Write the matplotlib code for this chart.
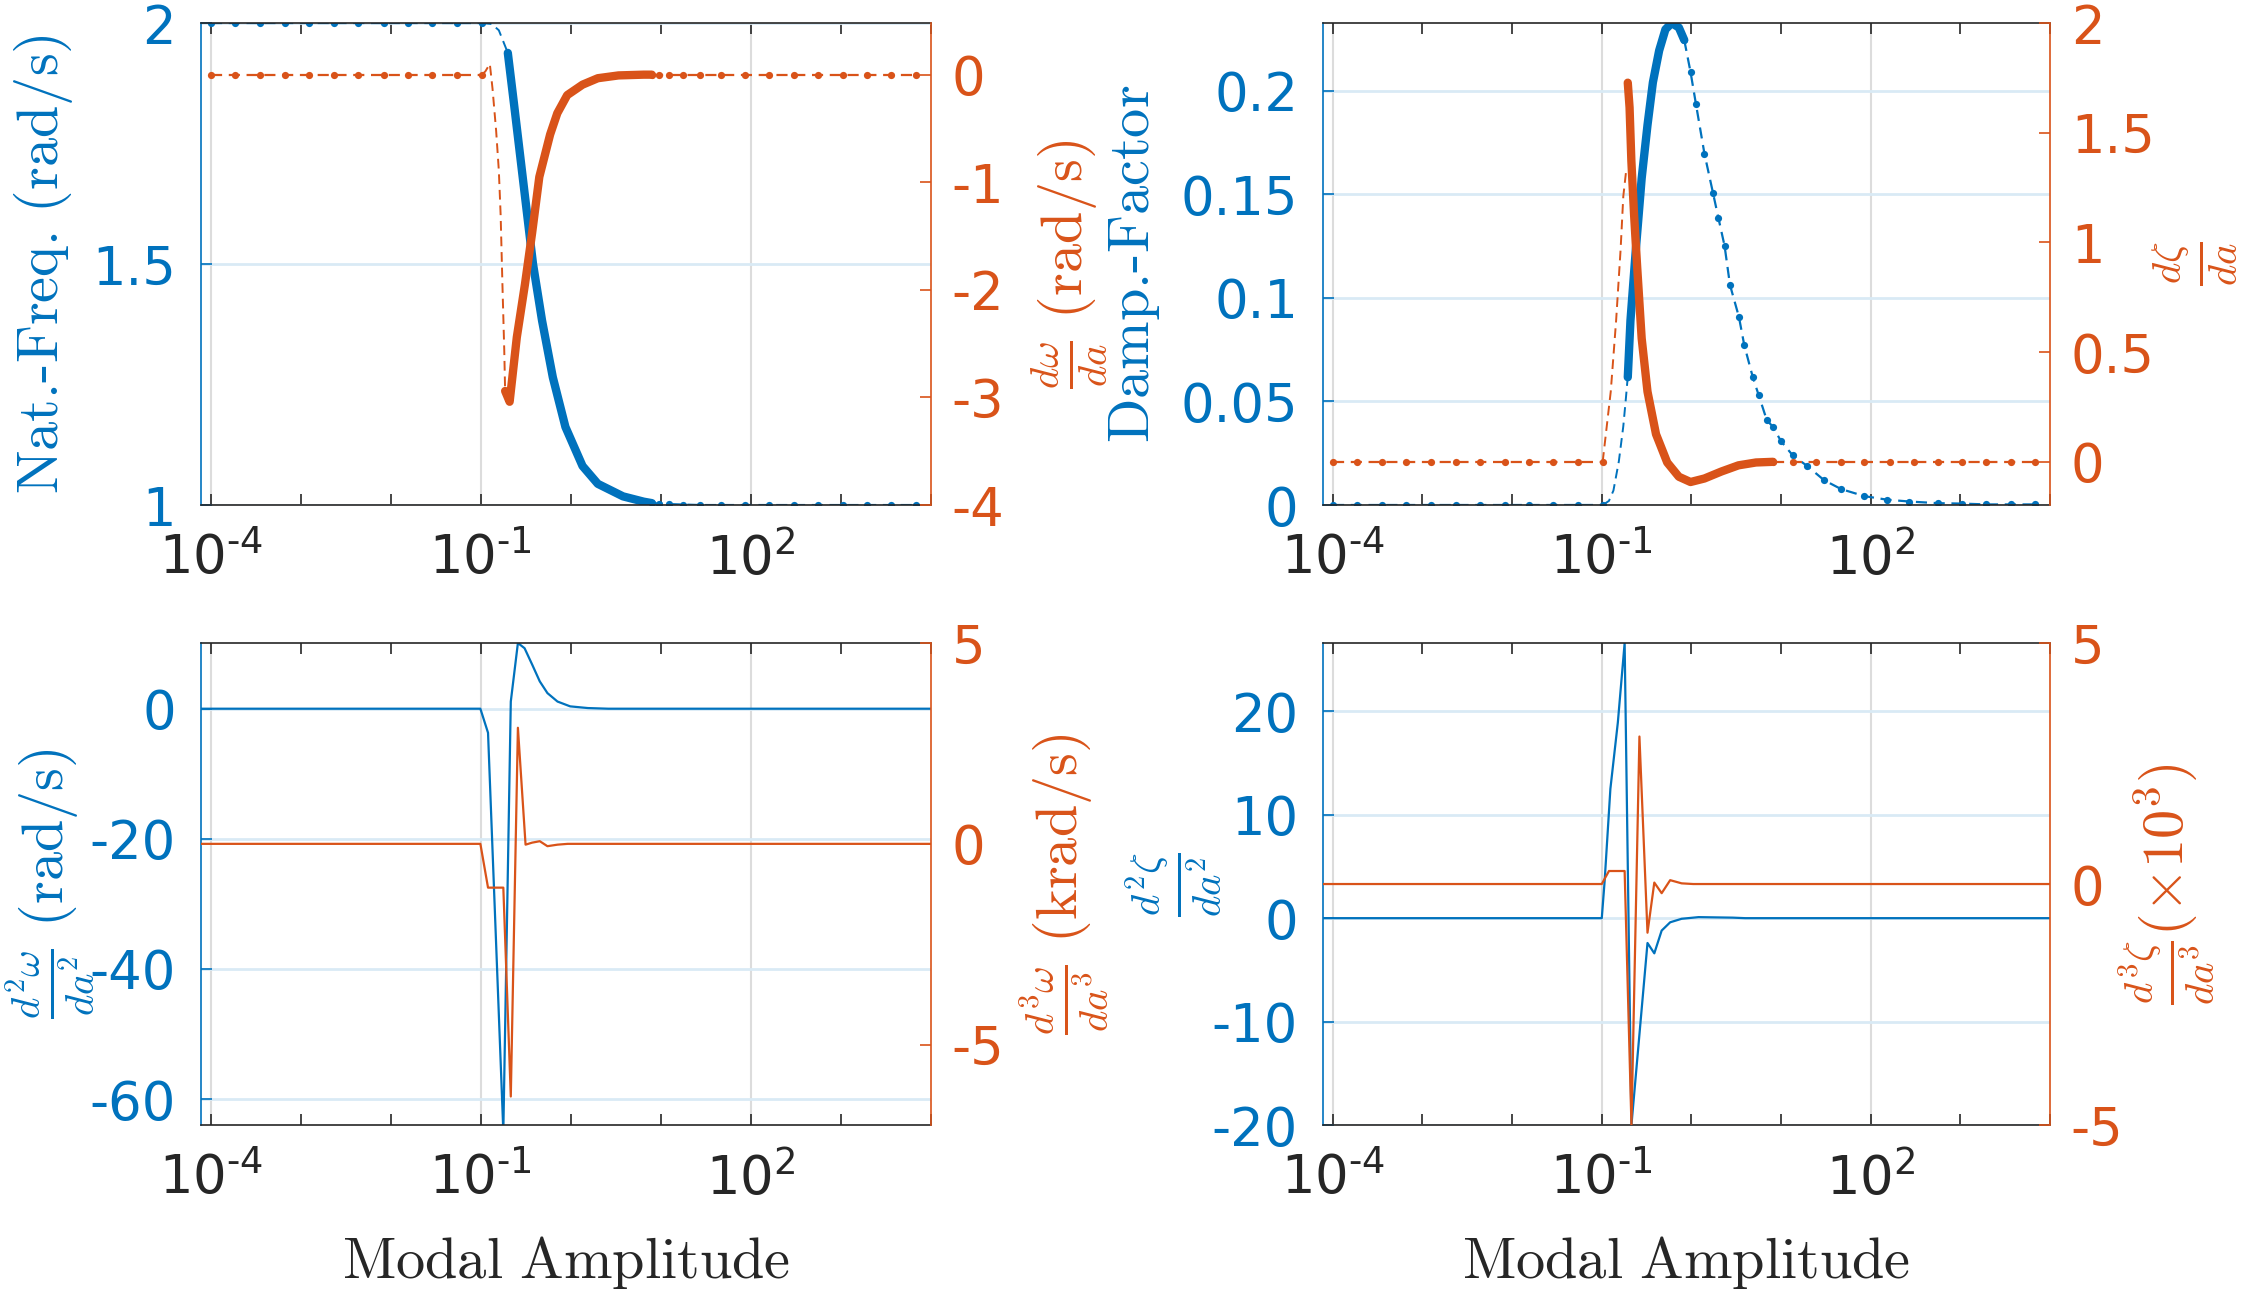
import numpy as np
import matplotlib.pyplot as plt
from matplotlib.ticker import FixedLocator, FixedFormatter, LogLocator, NullFormatter, FuncFormatter

plt.rcParams['mathtext.fontset'] = 'cm'
plt.rcParams['axes.unicode_minus'] = False

AZUL = '#0072BD'
NARANJA = '#D95319'
GRIS = '#262626'

# amplitudes (log10) de los puntos espaciados en la zona plana
loga_bajo = [-4.00, -3.73, -3.45, -3.18, -2.91, -2.63, -2.36, -2.08, -1.81, -1.54, -1.26, -0.99]
ceros_bajo = [0.0, 0.0, 0.0, 0.0, 0.0, 0.0, 0.0, 0.0, 0.0, 0.0, 0.0, 0.0]

# --- arriba izquierda: frecuencia natural (izq) y dw/da (der)
w_bajo = [2.0, 2.0, 2.0, 2.0, 2.0, 2.0, 2.0, 2.0, 2.0, 2.0, 2.0, 2.0]
w_puente_loga = [-0.99, -0.88, -0.80, -0.70]
w_puente = [2.000, 1.998, 1.985, 1.938]
w_denso_loga = [-0.70, -0.63, -0.56, -0.49, -0.42, -0.32, -0.20, -0.06, 0.13, 0.30, 0.58, 0.81, 0.90]
w_denso = [1.938, 1.830, 1.720, 1.610, 1.500, 1.383, 1.265, 1.162, 1.081, 1.044, 1.018, 1.007, 1.004]
w_alto_loga = [0.90, 0.98, 1.09, 1.25, 1.44, 1.67, 1.93, 2.20, 2.48, 2.75, 3.02, 3.29, 3.56, 3.83]
w_alto = [1.004, 1.003, 1.002, 1.001, 1.0, 1.0, 1.0, 1.0, 1.0, 1.0, 1.0, 1.0, 1.0, 1.0]

dw_puente_loga = [-0.99, -0.95, -0.90, -0.87, -0.83, -0.80, -0.78, -0.76, -0.74, -0.73]
dw_puente = [0.0, 0.03, 0.10, -0.13, -0.52, -0.89, -1.30, -1.95, -2.55, -2.94]
dw_denso_loga = [-0.73, -0.68, -0.60, -0.51, -0.43, -0.35, -0.23, -0.15, -0.04, 0.13, 0.30, 0.53, 0.81, 0.90]
dw_denso = [-2.94, -3.04, -2.44, -1.95, -1.47, -0.95, -0.556, -0.358, -0.19, -0.093, -0.033, -0.007, 0.0, 0.0]
dw_alto = [0.0, 0.0, 0.0, 0.0, 0.0, 0.0, 0.0, 0.0, 0.0, 0.0, 0.0, 0.0, 0.0, 0.0]

# --- arriba derecha: amortiguamiento (izq) y dz/da (der)
z_puente_loga = [-0.99, -0.92, -0.87, -0.81, -0.76, -0.73, -0.71]
z_puente = [0.0, 0.002, 0.007, 0.021, 0.038, 0.052, 0.062]
z_denso_loga = [-0.71, -0.68, -0.62, -0.555, -0.49, -0.43, -0.36, -0.29, -0.22, -0.14, -0.08]
z_denso = [0.0617, 0.0891, 0.1234, 0.1577, 0.1834, 0.2040, 0.2194, 0.2296, 0.2327, 0.2305, 0.2245]
z_cola_loga = [-0.08, -0.01, 0.05, 0.145, 0.24, 0.30, 0.37, 0.43, 0.53, 0.59, 0.685, 0.75, 0.84, 0.91,
               1.00, 1.13, 1.29, 1.48, 1.67, 1.93, 2.18, 2.43, 2.75, 3.02, 3.29, 3.56, 3.83]
z_cola = [0.2245, 0.2091, 0.1937, 0.1697, 0.1508, 0.1388, 0.1251, 0.1063, 0.0908, 0.0771, 0.0617, 0.0531,
          0.0411, 0.0377, 0.0308, 0.0240, 0.0189, 0.0120, 0.0077, 0.0043, 0.0026, 0.0017, 0.0009, 0.0007,
          0.0003, 0.0003, 0.0003]

dz_puente_loga = [-0.99, -0.90, -0.84, -0.79, -0.76, -0.73]
dz_puente = [0.0, 0.32, 0.644, 0.968, 1.21, 1.32]
dz_denso_loga = [-0.71, -0.69, -0.67, -0.64, -0.605, -0.555, -0.49, -0.395, -0.27, -0.14, -0.01, 0.145,
                 0.335, 0.525, 0.72, 0.91]
dz_denso = [1.728, 1.615, 1.372, 1.129, 0.887, 0.563, 0.32, 0.126, -0.003, -0.068, -0.092, -0.076,
            -0.044, -0.016, -0.003, 0.0]
dz_alto_loga = [0.91, 1.13, 1.39, 1.67, 1.93, 2.21, 2.48, 2.75, 3.02, 3.29, 3.56, 3.83]
dz_alto = [0.0, 0.0, 0.0, 0.0, 0.0, 0.0, 0.0, 0.0, 0.0, 0.0, 0.0, 0.0]

# --- abajo izquierda: d2w/da2 (izq) y d3w/da3 en krad/s (der)
d2w_loga = [-4.11, -1.005, -0.92, -0.75, -0.667, -0.588, -0.514, -0.43, -0.345, -0.26, -0.148, -0.007, 0.19, 0.416, 4.0]
d2w = [0.0, 0.0, -3.7, -65.0, 1.1, 10.1, 9.3, 6.8, 4.2, 2.4, 1.1, 0.36, 0.1, 0.0, 0.0]
d3w_loga = [-4.11, -1.005, -0.92, -0.75, -0.667, -0.588, -0.503, -0.43, -0.345, -0.26, -0.148, -0.035, 4.0]
d3w = [0.0, 0.0, -1.09, -1.09, -6.29, 2.89, -0.02, 0.03, 0.066, -0.058, -0.02, 0.0, 0.0]

# --- abajo derecha: d2z/da2 (izq) y d3z/da3 x1e3 (der)
d2z_loga = [-4.11, -1.0, -0.968, -0.904, -0.821, -0.745, -0.669, -0.49, -0.414, -0.332, -0.237, -0.109, 0.08, 0.46, 0.6, 4.0]
d2z = [0.0, 0.0, 3.6, 12.5, 18.9, 26.6, -20.0, -2.4, -3.4, -1.2, -0.4, -0.06, 0.1, 0.05, 0.0, 0.0]
d3z_loga = [-4.11, -1.0, -0.92, -0.745, -0.669, -0.58, -0.49, -0.414, -0.332, -0.237, -0.109, 0.02, 4.0]
d3z = [0.0, 0.0, 0.27, 0.27, -5.0, 3.06, -1.01, 0.03, -0.19, 0.08, 0.014, 0.0, 0.0]

HY = "\u2010"
etiquetas_x = ["$\\mathdefault{10^{" + HY + "4}}$", "$\\mathdefault{10^{" + HY + "1}}$", "$\\mathdefault{10^{2}}$"]


def a(loga):
    return np.power(10.0, np.asarray(loga))


fmt_g = FuncFormatter(lambda v, p: f"{v:g}")


def preparar(pos, ylim1, yt1, ylim2, yt2):
    ax = fig.add_axes(pos)
    ax.set_xscale('log')
    ax2 = ax.twinx()
    ax.set_xlim(10 ** -4.11, 10 ** 4)
    ax.xaxis.set_major_locator(FixedLocator([1e-4, 1e-1, 1e2]))
    ax.xaxis.set_major_formatter(FixedFormatter(etiquetas_x))
    ax.xaxis.set_minor_locator(LogLocator(base=10, subs=(1.0,), numticks=30))
    ax.xaxis.set_minor_formatter(NullFormatter())
    ax.set_ylim(*ylim1)
    ax.set_yticks(yt1)
    ax2.set_ylim(*ylim2)
    ax2.set_yticks(yt2)
    ax.yaxis.set_major_formatter(fmt_g)
    ax2.yaxis.set_major_formatter(fmt_g)

    ax.tick_params(axis='x', which='both', direction='in', top=True, bottom=True, length=8, width=1.2,
                   color=GRIS, labelcolor=GRIS, labelsize=38, pad=20)
    ax.tick_params(axis='y', direction='in', left=True, right=False, length=8, width=1.2,
                   color=AZUL, labelcolor=AZUL, labelsize=38, pad=18)
    ax2.tick_params(axis='y', direction='in', right=True, left=False, length=8, width=1.2,
                    color=NARANJA, labelcolor=NARANJA, labelsize=38, pad=15)

    for s in ['top', 'bottom']:
        ax.spines[s].set_color(GRIS)
        ax.spines[s].set_linewidth(1.2)
        ax2.spines[s].set_visible(False)
    ax.spines['left'].set_color(AZUL)
    ax.spines['left'].set_linewidth(1.2)
    ax.spines['right'].set_visible(False)
    ax2.spines['left'].set_visible(False)
    ax2.spines['right'].set_color(NARANJA)
    ax2.spines['right'].set_linewidth(1.2)

    ax.set_axisbelow(True)
    ax.grid(True, axis='x', which='major', color='#dcdcdc', lw=1.5)
    ax.grid(True, axis='y', which='major', color='#d9eaf5', lw=2)
    return ax, ax2


def punteado(ax, lx, y, color):
    ax.plot(a(lx), y, color=color, lw=1.6, ls='--', dashes=(5, 3), marker='o', ms=5.2, mew=0)


def puente(ax, lx, y, color):
    ax.plot(a(lx), y, color=color, lw=1.4, ls='--', dashes=(5, 3))


def denso(ax, lx, y, color):
    ax.plot(a(lx), y, color=color, lw=6, solid_capstyle='round', solid_joinstyle='round')


fig = plt.figure(figsize=(22.5, 12.93), dpi=100)

# arriba izquierda
ax, ax2 = preparar([0.0893, 0.6094, 0.3244, 0.3728], (1, 2), [1, 1.5, 2], (-4, 0.48), [-4, -3, -2, -1, 0])
punteado(ax, loga_bajo, w_bajo, AZUL)
puente(ax, w_puente_loga, w_puente, AZUL)
denso(ax, w_denso_loga, w_denso, AZUL)
punteado(ax, w_alto_loga, w_alto, AZUL)
punteado(ax2, loga_bajo, ceros_bajo, NARANJA)
puente(ax2, dw_puente_loga, dw_puente, NARANJA)
denso(ax2, dw_denso_loga, dw_denso, NARANJA)
punteado(ax2, w_alto_loga, dw_alto, NARANJA)
ax.set_ylabel(r'$\text{Nat.-Freq.}\ \text{(rad/s)}$', fontsize=42, color=AZUL, va='center')
ax.yaxis.set_label_coords(-0.216, 0.5)
ax2.set_ylabel(r'$\frac{d\omega}{da}\ \mathrm{(rad/s)}$', fontsize=42, color=NARANJA, va='center')
ax2.yaxis.set_label_coords(1.189, 0.5)

# arriba derecha
ax, ax2 = preparar([0.5880, 0.6094, 0.3231, 0.3728], (0, 0.2327), [0, 0.05, 0.1, 0.15, 0.2],
                   (-0.197, 2), [0, 0.5, 1, 1.5, 2])
punteado(ax, loga_bajo, ceros_bajo, AZUL)
puente(ax, z_puente_loga, z_puente, AZUL)
denso(ax, z_denso_loga, z_denso, AZUL)
punteado(ax, z_cola_loga, z_cola, AZUL)
punteado(ax2, loga_bajo, ceros_bajo, NARANJA)
puente(ax2, dz_puente_loga, dz_puente, NARANJA)
denso(ax2, dz_denso_loga, dz_denso, NARANJA)
punteado(ax2, dz_alto_loga, dz_alto, NARANJA)
ax.set_ylabel(r'$\text{Damp.-Factor}$', fontsize=42, color=AZUL, va='center')
ax.yaxis.set_label_coords(-0.26, 0.5)
ax2.set_ylabel(r'$\frac{d\zeta}{da}$', fontsize=42, color=NARANJA, va='center')
ax2.yaxis.set_label_coords(1.20, 0.5)

# abajo izquierda
ax, ax2 = preparar([0.0893, 0.1299, 0.3244, 0.3728], (-64, 10.1), [-60, -40, -20, 0], (-7.0, 5), [-5, 0, 5])
ax.plot(a(d2w_loga), d2w, color=AZUL, lw=1.6)
ax2.plot(a(d3w_loga), d3w, color=NARANJA, lw=1.6)
ax.set_ylabel(r'$\frac{d^2\omega}{da^2}\ \mathrm{(rad/s)}$', fontsize=42, color=AZUL, va='center')
ax.yaxis.set_label_coords(-0.207, 0.5)
ax2.set_ylabel(r'$\frac{d^3\omega}{da^3}\ \mathrm{(krad/s)}$', fontsize=42, color=NARANJA, va='center')
ax2.yaxis.set_label_coords(1.183, 0.5)
ax.set_xlabel(r'$\mathrm{Modal\ Amplitude}$', fontsize=42, color=GRIS, va='center')
ax.xaxis.set_label_coords(0.5, -0.286)

# abajo derecha
ax, ax2 = preparar([0.5880, 0.1299, 0.3231, 0.3728], (-20, 26.6), [-20, -10, 0, 10, 20], (-5, 5), [-5, 0, 5])
ax.plot(a(d2z_loga), d2z, color=AZUL, lw=1.6)
ax2.plot(a(d3z_loga), d3z, color=NARANJA, lw=1.6)
ax.set_ylabel(r'$\frac{d^2\zeta}{da^2}$', fontsize=42, color=AZUL, va='center')
ax.yaxis.set_label_coords(-0.205, 0.5)
ax2.set_ylabel(r'$\frac{d^3\zeta}{da^3}(\times10^3)$', fontsize=42, color=NARANJA, va='center')
ax2.yaxis.set_label_coords(1.161, 0.5)
ax.set_xlabel(r'$\mathrm{Modal\ Amplitude}$', fontsize=42, color=GRIS, va='center')
ax.xaxis.set_label_coords(0.5, -0.286)

fig.savefig('out.png', dpi=100)
